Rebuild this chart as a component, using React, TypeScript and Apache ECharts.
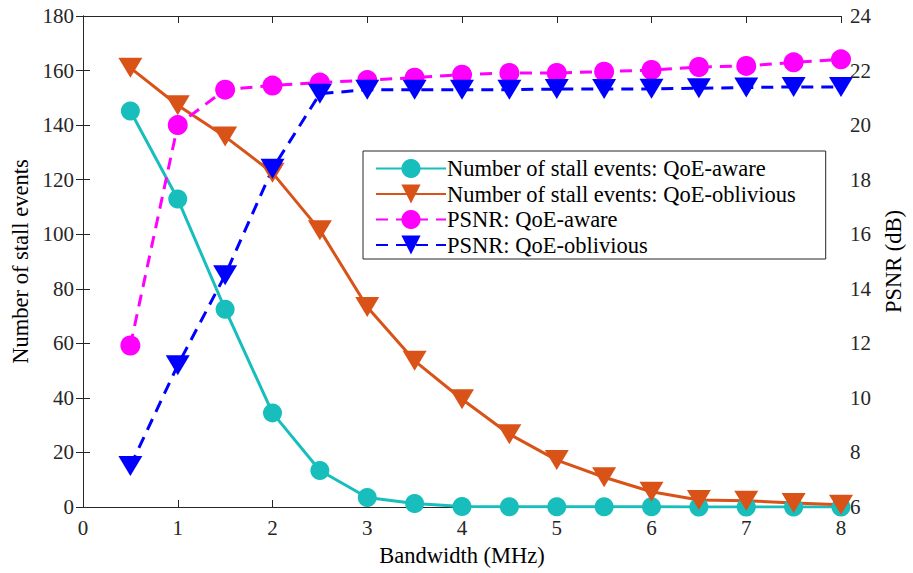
import React, { useEffect, useRef } from "react";
import * as echarts from "echarts";

const bandwidth = [0.5, 1, 1.5, 2, 2.5, 3, 3.5, 4, 4.5, 5, 5.5, 6, 6.5, 7, 7.5, 8];
const stallAware = [145.2, 112.9, 72.5, 34.5, 13.4, 3.5, 1.3, 0.2, 0.1, 0.1, 0.1, 0.1, 0, 0, 0, 0];
const stallOblivious = [161, 147.3, 135.8, 122.5, 101.5, 73.3, 53.6, 39.5, 26.7, 17.2, 10.9, 5.6, 2.6, 2.3, 1.5, 0.8];
const psnrAware = [11.92, 20.0, 21.3, 21.45, 21.56, 21.65, 21.74, 21.85, 21.91, 21.91, 21.96, 22.02, 22.13, 22.17, 22.3, 22.41];
const psnrOblivious = [7.5, 11.2, 14.5, 18.4, 21.15, 21.3, 21.3, 21.3, 21.3, 21.32, 21.32, 21.33, 21.35, 21.38, 21.4, 21.4];

const xTicks = [0, 1, 2, 3, 4, 5, 6, 7, 8];
const seriesNames = [
  "Number of stall events: QoE-aware",
  "Number of stall events: QoE-oblivious",
  "PSNR: QoE-aware",
  "PSNR: QoE-oblivious",
];

const FONT = "'Liberation Serif', 'Times New Roman', serif";
const TXT = "#262626";
const TICK_FS = 21;
const NAME_FS = 22.5;

const pairs = (ys: number[]) => bandwidth.map((x, i) => [x, ys[i]]);

export default function App() {
  const ref = useRef<HTMLDivElement>(null);
  useEffect(() => {
    if (!ref.current) return;
    const chart = echarts.init(ref.current, undefined, { renderer: "svg" });
    const axisLine = { show: true, lineStyle: { color: TXT, width: 1 } };
    const axisLabel = { color: TXT, fontFamily: FONT, fontSize: TICK_FS };
    const nameTextStyle = { color: "#000", fontFamily: FONT, fontSize: NAME_FS };
    const axisTick = { show: true, inside: true, length: 7, lineStyle: { color: TXT } };
    chart.setOption({
      animation: false,
      backgroundColor: "#fff",
      textStyle: { fontFamily: FONT },
      grid: { left: 83, right: 65, top: 16, bottom: 66, containLabel: false },
      legend: {
        orient: "vertical",
        left: 363,
        top: 151,
        data: seriesNames,
        itemWidth: 70,
        itemHeight: 24,
        itemGap: 2.5,
        padding: [6, 30, 2.5, 12],
        backgroundColor: "#fff",
        borderColor: TXT,
        borderWidth: 1,
        borderRadius: 0,
        textStyle: { color: "#000", fontFamily: FONT, fontSize: NAME_FS, padding: [0, 0, 0, -4] },
      },
      xAxis: [
        {
          type: "value",
          min: 0,
          max: 8,
          interval: 1,
          name: "Bandwidth (MHz)",
          nameLocation: "middle",
          nameGap: 37,
          nameTextStyle,
          axisLine,
          axisTick,
          axisLabel: { ...axisLabel, margin: 10, formatter: (v: number) => (xTicks.includes(v) ? String(v) : "") },
          splitLine: { show: false },
        },
        {
          type: "value",
          position: "top",
          min: 0,
          max: 8,
          interval: 1,
          axisLine,
          axisTick,
          axisLabel: { show: false },
          splitLine: { show: false },
        },
      ],
      yAxis: [
        {
          type: "value",
          min: 0,
          max: 180,
          interval: 20,
          name: "Number of stall events",
          nameLocation: "middle",
          nameGap: 44,
          nameTextStyle,
          axisLine,
          axisTick,
          axisLabel: { ...axisLabel, margin: 9 },
          splitLine: { show: false },
        },
        {
          type: "value",
          min: 6,
          max: 24,
          interval: 2,
          position: "right",
          name: "PSNR (dB)",
          nameLocation: "middle",
          nameGap: 41,
          nameRotate: 90,
          nameTextStyle,
          axisLine,
          axisTick,
          axisLabel: { ...axisLabel, margin: 9 },
          splitLine: { show: false },
        },
      ],
      series: [
        {
          name: seriesNames[0],
          type: "line",
          yAxisIndex: 0,
          data: pairs(stallAware),
          symbol: "circle",
          symbolSize: 19,
          itemStyle: { color: "#17BEBB" },
          lineStyle: { color: "#17BEBB", width: 3 },
        },
        {
          name: seriesNames[1],
          type: "line",
          yAxisIndex: 0,
          data: pairs(stallOblivious),
          symbol: "triangle",
          symbolRotate: 180,
          symbolSize: [24, 20],
          itemStyle: { color: "#D95319" },
          lineStyle: { color: "#D95319", width: 3 },
        },
        {
          name: seriesNames[2],
          type: "line",
          yAxisIndex: 1,
          data: pairs(psnrAware),
          symbol: "circle",
          symbolSize: 20,
          itemStyle: { color: "#FF00FF" },
          lineStyle: { color: "#FF00FF", width: 3, type: [12, 8] },
        },
        {
          name: seriesNames[3],
          type: "line",
          yAxisIndex: 1,
          data: pairs(psnrOblivious),
          symbol: "triangle",
          symbolRotate: 180,
          symbolSize: [24, 20],
          itemStyle: { color: "#0000FF" },
          lineStyle: { color: "#0000FF", width: 3, type: [12, 8] },
        },
      ],
    });
    return () => chart.dispose();
  }, []);
  return <div ref={ref} style={{ width: 913, height: 573, position: "absolute", left: 0, top: 0 }} />;
}
